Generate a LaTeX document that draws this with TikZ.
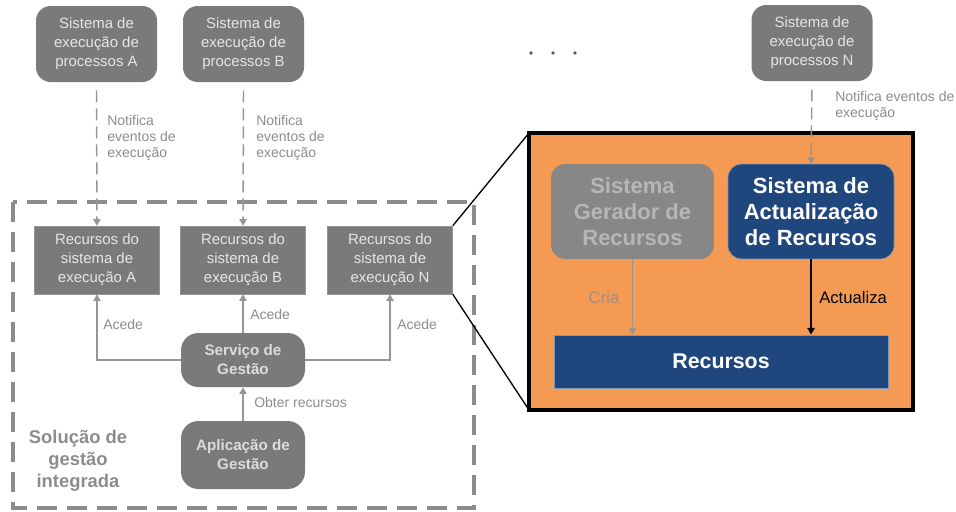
\documentclass[tikz,border=0pt]{standalone}
\usepackage{fontspec}
\setmainfont{Liberation Sans}
\usepackage{tikz}
\usetikzlibrary{arrows.meta,calc,positioning}

\definecolor{boxgray}{RGB}{122,122,122}
\definecolor{boxtext}{RGB}{230,230,230}
\definecolor{labelgray}{RGB}{140,140,140}
\definecolor{linegray}{RGB}{150,150,150}
\definecolor{zoomorange}{RGB}{244,154,82}
\definecolor{darkblue}{RGB}{31,71,125}
\definecolor{edgeblue}{RGB}{125,150,185}
\definecolor{gergray}{RGB}{135,135,135}
\definecolor{gertext}{RGB}{182,182,182}
\definecolor{criagray}{RGB}{165,142,125}

\tikzset{
  procbox/.style={fill=boxgray, text=boxtext, rounded corners=11pt, align=center,
    minimum width=90.75pt, minimum height=57pt, inner sep=0pt,
    font=\fontsize{11.2}{14.25}\selectfont},
  resbox/.style={fill=boxgray, draw=boxgray!80!white, text=boxtext, align=center,
    minimum width=93.75pt, minimum height=51pt, inner sep=0pt,
    font=\fontsize{11.2}{14.25}\selectfont},
  mgmtbox/.style={fill=boxgray, text=boxtext!90!gray, rounded corners=13pt, align=center,
    minimum width=93pt, inner sep=0pt,
    font=\bfseries\fontsize{11.4}{14.25}\selectfont},
  bigbox/.style={rounded corners=10pt, align=center, inner sep=0pt,
    minimum width=122pt, minimum height=71pt,
    font=\bfseries\fontsize{16.5}{19.5}\selectfont},
  lbl/.style={text=labelgray, align=left, inner sep=0pt,
    font=\fontsize{10.5}{12}\selectfont},
  tip/.style={-{Triangle[length=5pt,width=5.5pt]}},
  notify/.style={tip, draw=linegray, line width=1.1pt, dash pattern=on 9pt off 4.5pt},
  acc/.style={tip, draw=linegray, line width=1.1pt}
}

\begin{document}
\begin{tikzpicture}[x=0.75pt, y=-0.75pt]
      % Picture frame
      \useasboundingbox (0,0) rectangle (956,511);
      % Process execution systems
      \node[procbox] (sysA) at (96.5,44) {Sistema de\\execução de\\processos A};
      \node[procbox] (sysB) at (243.5,44) {Sistema de\\execução de\\processos B};
      \node[procbox] (sysN) at (812,43) {Sistema de\\execução de\\processos N};
      % Dots between B and N
      \foreach \dx in {531,553,575}
        \fill[black!65] (\dx,53) circle (1.4pt);
      % Integrated management solution (dashed frame)
      \draw[labelgray, line width=2.3pt, dash pattern=on 15pt off 7.5pt] (13,202) rectangle (474,508);
      \node[text=labelgray, align=center, font=\bfseries\fontsize{13.8}{16.5}\selectfont] (sol) at (78,461)
        {Solução de\\gestão\\integrada};
      % Resources of each execution system
      \node[resbox] (recA) at (97,260) {Recursos do\\sistema de\\execução A};
      \node[resbox] (recB) at (243,260) {Recursos do\\sistema de\\execução B};
      \node[resbox] (recN) at (390,260) {Recursos do\\sistema de\\execução N};
      % Management service and application
      \node[mgmtbox, minimum height=40.5pt] (serv) at (243,360) {Serviço de\\Gestão};
      \node[mgmtbox, minimum height=51pt] (apl) at (243,455) {Aplicação de\\Gestão};
      % Notifications
      \draw[notify] (sysA.south) ++(0,8) -- (recA.north);
      \draw[notify] (sysB.south) ++(0,8) -- (recB.north);
      \node[lbl, anchor=north west] (notA) at (107,115) {Notifica\\eventos de\\execução};
      \node[lbl, anchor=north west] (notB) at (256,115) {Notifica\\eventos de\\execução};
      % Access arrows
      \draw[acc] (serv.west) -| (recA.south);
      \draw[acc] (serv.north) -- (recB.south);
      \draw[acc] (serv.east) -| (recN.south);
      \draw[acc] (apl.north) -- (serv.south);
      \node[lbl, anchor=west] (acA) at (103,324) {Acede};
      \node[lbl, anchor=west] (acB) at (250,314) {Acede};
      \node[lbl, anchor=west] (acN) at (397,324) {Acede};
      \node[lbl, anchor=west] (obt) at (254,402) {Obter recursos};
      % Zoomed view of resources of N
      \coordinate (zTL) at (529,133);
      \coordinate (zBR) at (913,410);
      \draw[black, line width=1pt] (recN.north east) -- (zTL);
      \draw[black, line width=1pt] (recN.south east) -- (zTL |- zBR);
      \draw[fill=zoomorange, draw=black, line width=3pt] (zTL) rectangle (zBR);
      \node[bigbox, fill=gergray, text=gertext] (ger) at (632.5,211.5) {Sistema\\Gerador de\\Recursos};
      \node[bigbox, fill=darkblue, draw=edgeblue, text=white, minimum width=124.5pt] (act) at (811,211.5)
        {Sistema de\\Actualização\\de Recursos};
      \node[fill=darkblue, draw=edgeblue, text=white, minimum width=250.5pt, minimum height=40pt,
        inner sep=0pt, font=\bfseries\fontsize{16}{19}\selectfont] (rec) at (721,361.5) {Recursos};
      % Notification of N and resource arrows
      \draw[notify] (sysN.south) ++(0,8) -- (act.north);
      \node[lbl, anchor=north west] (notN) at (835,91) {Notifica eventos de\\execução};
      \draw[acc] (ger.south) -- (ger.south |- rec.north);
      \draw[tip, black, line width=1.1pt] (act.south) -- (act.south |- rec.north);
      \node[text=criagray, font=\fontsize{12.5}{14}\selectfont] (cria) at (604,298) {Cria};
      \node[anchor=west, inner sep=0pt, font=\fontsize{12.5}{14}\selectfont] (upd) at (819,298) {Actualiza};
    \end{tikzpicture}
\end{document}
